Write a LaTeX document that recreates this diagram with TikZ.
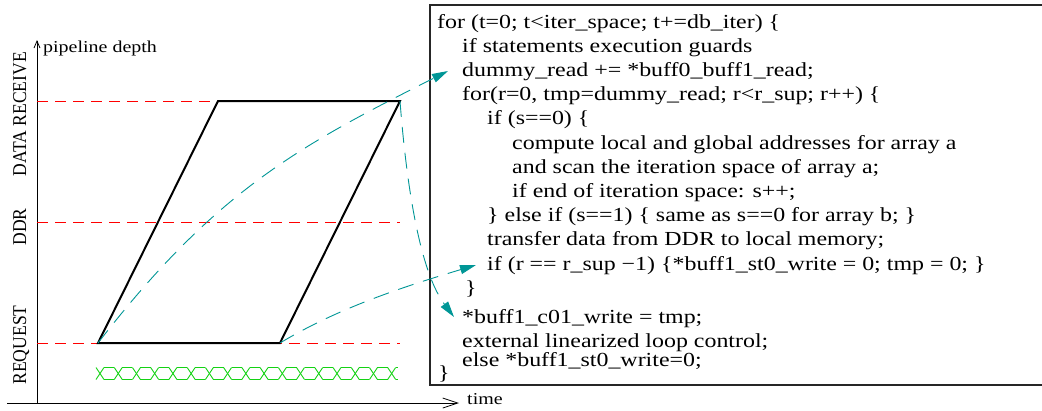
\documentclass[tikz,border=0pt]{standalone}
\usepackage{fontspec}
\setmainfont{Liberation Serif}
\newfontfamily\codefont[FakeStretch=1.2]{Liberation Serif}
\newfontfamily\rotfont[FakeStretch=0.9]{Liberation Serif}
\usetikzlibrary{arrows.meta}
\definecolor{tealc}{RGB}{0,150,150}
\definecolor{grn}{RGB}{20,210,20}
\begin{document}
\begin{tikzpicture}[x=1bp,y=-1bp,
  code/.style={anchor=base west, inner sep=0pt, font=\codefont\fontsize{20}{24}\selectfont},
  axlabel/.style={anchor=base west, inner sep=0pt, font=\codefont\fontsize{16.7}{20}\selectfont},
  rotlabel/.style={anchor=base, inner sep=0pt, rotate=90, font=\rotfont\fontsize{19.6}{22}\selectfont},
  level/.style={red, line width=0.9bp, dash pattern=on 11bp off 7bp},
  flow/.style={tealc, line width=0.9bp, dash pattern=on 16bp off 10bp, -{Triangle[length=16bp,width=9bp]}},
  bus/.style={grn, line width=0.9bp},
  pgram/.style={black, line width=2bp, line join=miter},
  axis/.style={black, line width=0.8bp}]
\useasboundingbox (0,0) rectangle (1042,410);

% axes
\coordinate (yb) at (37,404);
\coordinate (yt) at (37,40);
\coordinate (xl) at (7,403);
\coordinate (xr) at (459,403);
\draw[axis, -{Straight Barb[length=7bp,width=6bp]}] (yb) -- (yt);
\draw[axis, -{Straight Barb[length=15bp,width=10bp]}] (xl) -- (xr);
\node[axlabel] (pd) at (43,52) {pipeline depth};
\node[axlabel] (tm) at (467,404) {time};

% rotated level labels
\node[rotlabel] (lr) at (26,114) {DATA RECEIVE};
\node[rotlabel] (ld) at (26,227) {DDR};
\node[rotlabel] (lq) at (26,345) {REQUEST};

% level lines
\coordinate (r1a) at (37,101); \coordinate (r1b) at (400,101);
\coordinate (r2a) at (37,222); \coordinate (r2b) at (400,222);
\coordinate (r3a) at (37,343); \coordinate (r3b) at (400,343);
\draw[level] (r1a) -- (r1b);
\draw[level] (r2a) -- (r2b);
\draw[level] (r3a) -- (r3b);

% parallelogram
\coordinate (BL) at (98,343);
\coordinate (BR) at (280,343);
\coordinate (TR) at (400,101);
\coordinate (TL) at (218,101);
\draw[pgram] (BL) -- (BR) -- (TR) -- (TL) -- cycle;

% green bus
\foreach \i in {0,...,16} {
  \pgfmathsetmacro{\xc}{100+\i*18.23}
  \draw[bus] (\xc-4,367.5) -- (\xc+4,379.5);
  \draw[bus] (\xc-4,379.5) -- (\xc+4,367.5);
}
\foreach \i in {0,...,15} {
  \pgfmathsetmacro{\xa}{100+\i*18.23+4}
  \pgfmathsetmacro{\xb}{100+(\i+1)*18.23-4}
  \draw[bus] (\xa,367.5) -- (\xb,367.5);
  \draw[bus] (\xa,379.5) -- (\xb,379.5);
}
\draw[bus] (395.6,367.5) -- (398,367.5);
\draw[bus] (395.6,379.5) -- (398,379.5);

% code box
\draw[black!85, line width=1.5bp] (1042,5) -- (430,5) -- (430,385) -- (1042,385);

% code lines
\node[code] (c1) at (437,28) {for (t=0; t<iter\_space; t+=db\_iter) \{};
\node[code] (c2) at (462,52.2) {if statements execution guards};
\node[code] (c3) at (462,76.4) {dummy\_read += *buff0\_buff1\_read;};
\node[code] (c4) at (462,100.6) {for(r=0, tmp=dummy\_read; r<r\_sup; r++) \{};
\node[code] (c5) at (487,124.8) {if (s==0) \{};
\node[code] (c6) at (512,149) {compute local and global addresses for array a};
\node[code] (c7) at (512,173.2) {and scan the iteration space of array a;};
\node[code] (c8) at (512,197.4) {if end of iteration space: s++;};
\node[code] (c9) at (487,221.6) {\} else if (s==1) \{ same as s==0 for array b; \}};
\node[code] (c10) at (487,245.8) {transfer data from DDR to local memory;};
\node[code] (c11) at (487,270) {if (r == r\_sup −1) \{*buff1\_st0\_write = 0; tmp = 0; \}};
\node[code] (c12) at (465,294.2) {\}};
\node[code] (c13) at (462,323) {*buff1\_c01\_write = tmp;};
\node[code] (c14) at (462,347) {external linearized loop control;};
\node[code] (c15) at (462,366.5) {else *buff1\_st0\_write=0;};
\node[code] (c16) at (438,379) {\}};

% flow arrows
\coordinate (t1) at (448,71);
\coordinate (t2) at (454,317);
\coordinate (t3) at (476,265);
\draw[flow] (BL) .. controls (216,190) and (301,145) .. (t1);
\draw[flow] (TR) .. controls (404,153) and (415,265) .. (t2);
\draw[flow] (BR) .. controls (340,307) and (406,286) .. (t3);
\end{tikzpicture}
\end{document}
